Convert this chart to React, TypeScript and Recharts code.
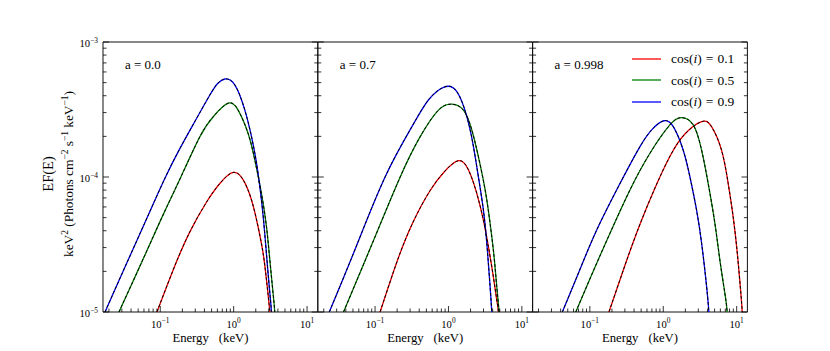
import React from 'react'
import { LineChart, Line, XAxis, YAxis, Legend, ReferenceArea } from 'recharts'

const FONT = '"Liberation Serif", "Times New Roman", serif'
const TOP = 42
const BOTTOM = 312
const PANEL_EDGES = [103, 317.8, 532.6, 747.4]
const X_DOMAIN = [0.0166, 14.0]
const Y_DOMAIN = [1e-5, 1e-3]

const spins = ['0.0', '0.7', '0.998']
const cosLabels = ['0.1', '0.5', '0.9']
const colors = ['#ff0000', '#008000', '#0000ff']

const xTicks = [
  0.02, 0.03, 0.04, 0.05, 0.06, 0.07, 0.08, 0.09, 0.1,
  0.2, 0.3, 0.4, 0.5, 0.6, 0.7, 0.8, 0.9, 1,
  2, 3, 4, 5, 6, 7, 8, 9, 10,
]
const xMajorTicks = [0.1, 1, 10]
const xMajorExps = ['\u22121', '0', '1']

const yTicks = [
  1e-5, 2e-5, 3e-5, 4e-5, 5e-5, 6e-5, 7e-5, 8e-5, 9e-5,
  1e-4, 2e-4, 3e-4, 4e-4, 5e-4, 6e-4, 7e-4, 8e-4, 9e-4, 1e-3,
]
const yMajorTicks = [1e-5, 1e-4, 1e-3]
const yMajorExps = ['\u22125', '\u22124', '\u22123']

// a = 0.0
const eA0Red = [0.0767, 0.0902, 0.15, 0.253, 0.428, 0.648, 0.984, 1.35, 1.75, 2.15, 2.52, 2.8, 3.11, 3.2]
const fA0Red = [7.9e-6, 1.0e-5, 2.05e-5, 3.92e-5, 6.53e-5, 8.95e-5, 1.08e-4, 9.51e-5, 6.76e-5, 4.28e-5, 2.72e-5, 1.73e-5, 1.0e-5, 7.4e-6]
const eA0Green = [0.0228, 0.0274, 0.0447, 0.0723, 0.1175, 0.191, 0.347, 0.537, 0.841, 1.15, 1.57, 1.94, 2.39, 2.8, 3.11, 3.44, 3.63, 3.75]
const fA0Green = [7.9e-6, 1.0e-5, 1.79e-5, 3.19e-5, 5.71e-5, 1.0e-4, 1.99e-4, 2.83e-4, 3.52e-4, 3.13e-4, 2.11e-4, 1.34e-4, 7.57e-5, 4.28e-5, 2.43e-5, 1.38e-5, 1.0e-5, 6.8e-6]
const eA0Blue = [0.0147, 0.0177, 0.0275, 0.0428, 0.0711, 0.118, 0.178, 0.267, 0.474, 0.61, 0.759, 1.04, 1.42, 1.75, 2.05, 2.39, 2.65, 2.89, 3.11, 3.27, 3.36]
const fA0Blue = [7.9e-6, 1.0e-5, 1.72e-5, 2.94e-5, 5.45e-5, 1.0e-4, 1.56e-4, 2.33e-4, 4.05e-4, 4.95e-4, 5.32e-4, 4.8e-4, 3.13e-4, 1.99e-4, 1.26e-4, 6.76e-5, 3.83e-5, 2.17e-5, 1.38e-5, 1.0e-5, 6.8e-6]

// a = 0.7
const eA7Red = [0.099, 0.117, 0.194, 0.33, 0.563, 0.873, 1.37, 1.87, 2.43, 2.99, 3.5, 4.09, 4.55, 4.79, 4.9]
const fA7Red = [7.9e-6, 1.0e-5, 2.27e-5, 4.64e-5, 7.94e-5, 1.09e-4, 1.32e-4, 1.13e-4, 7.57e-5, 4.8e-5, 3.05e-5, 1.82e-5, 1.23e-5, 1.0e-5, 7.4e-6]
const eA7Green = [0.0309, 0.0372, 0.0906, 0.22, 0.412, 0.731, 1.11, 1.6, 2.08, 2.56, 3.16, 3.69, 4.18, 4.55, 4.89, 5.01]
const fA7Green = [7.9e-6, 1.0e-5, 3.17e-5, 1.0e-4, 1.99e-4, 3.13e-4, 3.46e-4, 3.13e-4, 2.23e-4, 1.41e-4, 8.02e-5, 4.54e-5, 2.57e-5, 1.54e-5, 1.0e-5, 6.8e-6]
const eA7Blue = [0.0198, 0.0238, 0.0537, 0.137, 0.318, 0.533, 0.873, 1.3, 1.78, 2.19, 2.56, 2.99, 3.33, 3.61, 3.89, 3.99]
const fA7Blue = [7.9e-6, 1.0e-5, 2.93e-5, 1.0e-4, 2.36e-4, 3.72e-4, 4.64e-4, 4.29e-4, 2.8e-4, 1.68e-4, 1.0e-4, 5.7e-5, 3.23e-5, 1.82e-5, 1.0e-5, 6.8e-6]

// a = 0.998
const eA998Red = [0.155, 0.182, 0.301, 0.482, 0.771, 1.23, 1.97, 3.33, 4.55, 6.22, 7.66, 8.95, 10.1, 11.0, 11.9, 12.1]
const fA998Red = [7.9e-6, 1.0e-5, 2.22e-5, 4.47e-5, 8.29e-5, 1.42e-4, 2.08e-4, 2.57e-4, 2.36e-4, 1.58e-4, 8.97e-5, 5.08e-5, 2.88e-5, 1.73e-5, 1.0e-5, 6.8e-6]
const eA998Green = [0.0535, 0.0643, 0.11, 0.188, 0.352, 0.659, 1.23, 1.78, 2.56, 3.33, 4.09, 5.05, 5.9, 6.9, 7.41, 7.59]
const fA998Green = [7.9e-6, 1.0e-5, 1.98e-5, 3.83e-5, 8.02e-5, 1.5e-4, 2.43e-4, 2.75e-4, 2.43e-4, 1.58e-4, 8.97e-5, 4.54e-5, 2.43e-5, 1.38e-5, 1.0e-5, 6.8e-6]
const eA998Blue = [0.0351, 0.0422, 0.0723, 0.124, 0.244, 0.482, 0.731, 1.02, 1.37, 1.87, 2.31, 2.84, 3.33, 3.81, 4.18, 4.29]
const fA998Blue = [7.9e-6, 1.0e-5, 2.03e-5, 4.05e-5, 8.47e-5, 1.68e-4, 2.3e-4, 2.61e-4, 2.36e-4, 1.58e-4, 1.0e-4, 5.7e-5, 3.23e-5, 1.73e-5, 1.0e-5, 6.8e-6]

const toPoints = (e: number[], f: number[]) => e.map((v, i) => ({ e: v, f: f[i] }))

const panels = [
  [toPoints(eA0Red, fA0Red), toPoints(eA0Green, fA0Green), toPoints(eA0Blue, fA0Blue)],
  [toPoints(eA7Red, fA7Red), toPoints(eA7Green, fA7Green), toPoints(eA7Blue, fA7Blue)],
  [toPoints(eA998Red, fA998Red), toPoints(eA998Green, fA998Green), toPoints(eA998Blue, fA998Blue)],
]

const XTick = (props: any) => {
  const { x, payload } = props
  const idx = xMajorTicks.indexOf(payload.value)
  const len = idx >= 0 ? 6 : 3.5
  return (
    <g>
      <line x1={x} x2={x} y1={BOTTOM} y2={BOTTOM - len} stroke="#000" strokeWidth={0.8} />
      {idx >= 0 && (
        <text x={x} y={327.5} textAnchor="middle" fontSize={10.6} fill="#000" style={{ fontFamily: FONT }}>
          10<tspan dy={-4.5} fontSize={7.4}>{xMajorExps[idx]}</tspan>
        </text>
      )}
    </g>
  )
}

const makeYTick = (left: number, right: number, showLabel: boolean) => (props: any) => {
  const { y, payload } = props
  const idx = yMajorTicks.indexOf(payload.value)
  const len = idx >= 0 ? 6 : 3.5
  return (
    <g>
      <line x1={left} x2={left + len} y1={y} y2={y} stroke="#000" strokeWidth={0.8} />
      <line x1={right - len} x2={right} y1={y} y2={y} stroke="#000" strokeWidth={0.8} />
      {showLabel && idx >= 0 && (
        <text x={left - 5} y={y + 5} textAnchor="end" fontSize={10.6} fill="#000" style={{ fontFamily: FONT }}>
          10<tspan dy={-4.5} fontSize={7.4}>{yMajorExps[idx]}</tspan>
        </text>
      )}
    </g>
  )
}

const renderLegend = (props: any) => {
  const items = (props.payload || []).filter((it: any) => it.type !== 'none' && it.color !== '#000')
  return (
    <div style={{ fontFamily: FONT, fontSize: 13.5, color: '#000', lineHeight: 1 }}>
      {items.map((item: any, i: number) => (
        <div key={i} style={{ height: 21.3, display: 'flex', alignItems: 'center' }}>
          <svg width={30} height={4} style={{ marginRight: 9 }}>
            <line x1={0} x2={29} y1={2} y2={2} stroke={item.color} strokeWidth={1.3} />
          </svg>
          <span style={{ whiteSpace: 'pre' }}>
            cos(<i>i</i>)<span style={{ margin: '0 4px' }}>=</span>{cosLabels[i]}
          </span>
        </div>
      ))}
    </div>
  )
}

const Panel = ({ index }: { index: number }) => {
  const left = PANEL_EDGES[index]
  const right = PANEL_EDGES[index + 1]
  return (
    <div style={{ position: 'absolute', left: 0, top: 0 }}>
      <LineChart
        width={830}
        height={351}
        margin={{ top: TOP, right: 830 - right, bottom: 351 - BOTTOM - 30, left: left - 40 }}
      >
        <XAxis
          dataKey="e"
          type="number"
          scale="log"
          domain={X_DOMAIN}
          allowDataOverflow
          ticks={xTicks}
          interval={0}
          tick={XTick}
          tickLine={false}
          axisLine={false}
          height={30}
        />
        <YAxis
          type="number"
          scale="log"
          domain={Y_DOMAIN}
          allowDataOverflow
          ticks={yTicks}
          interval={0}
          tick={makeYTick(left, right, index === 0)}
          tickLine={false}
          axisLine={false}
          width={40}
        />
        <ReferenceArea
          x1={X_DOMAIN[0]}
          x2={X_DOMAIN[1]}
          y1={Y_DOMAIN[0]}
          y2={Y_DOMAIN[1]}
          fill="none"
          stroke="#111"
          strokeWidth={1}
          fillOpacity={0}
          ifOverflow="visible"
        />
        {panels[index].map((pts, c) => (
          <Line
            key={`c${c}`}
            data={pts}
            dataKey="f"
            name={`cos(i) = ${cosLabels[c]}`}
            type="natural"
            stroke={colors[c]}
            strokeWidth={1.3}
            dot={false}
            activeDot={false}
            isAnimationActive={false}
          />
        ))}
        {panels[index].map((pts, c) => (
          <Line
            key={`d${c}`}
            data={pts}
            dataKey="f"
            type="natural"
            stroke="#000"
            strokeWidth={1}
            strokeDasharray="3 2"
            dot={false}
            activeDot={false}
            legendType="none"
            isAnimationActive={false}
          />
        ))}
        {index === 2 && (
          <Legend
            layout="vertical"
            align="center"
            verticalAlign="middle"
            content={renderLegend}
            wrapperStyle={{ position: 'absolute', left: 632, top: 48.4, width: 115, height: 64 }}
          />
        )}
      </LineChart>
    </div>
  )
}

const App = () => {
  const centers = [0, 1, 2].map((i) => (PANEL_EDGES[i] + PANEL_EDGES[i + 1]) / 2)
  return (
    <div style={{ position: 'absolute', left: 0, top: 0, width: 830, height: 351, background: '#fff' }}>
      <Panel index={0} />
      <Panel index={1} />
      <Panel index={2} />
      <svg
        width={830}
        height={351}
        style={{ position: 'absolute', left: 0, top: 0, pointerEvents: 'none', fontFamily: FONT }}
      >
        {spins.map((s, i) => (
          <text key={s} x={PANEL_EDGES[i] + 22} y={69.3} fontSize={13} fill="#000">
            a = {s}
          </text>
        ))}
        {centers.map((cx, i) => (
          <text key={i} x={cx} y={342} textAnchor="middle" fontSize={12.7} fill="#000">
            Energy<tspan dx={10}>(keV)</tspan>
          </text>
        ))}
        <text transform="translate(52.6,174) rotate(-90)" textAnchor="middle" fontSize={14.5} fill="#000">
          EF(E)
        </text>
        <text
          transform="translate(72.6,174) rotate(-90)"
          textAnchor="middle"
          fontSize={13.5}
          fill="#000"
          textLength={166}
          lengthAdjust="spacing"
        >
          keV<tspan dy={-5} fontSize={9.5}>2</tspan>
          <tspan dy={5}> (Photons cm</tspan>
          <tspan dy={-5} fontSize={9.5}>{'\u22122'}</tspan>
          <tspan dy={5}> s</tspan>
          <tspan dy={-5} fontSize={9.5}>{'\u22121'}</tspan>
          <tspan dy={5}> keV</tspan>
          <tspan dy={-5} fontSize={9.5}>{'\u22121'}</tspan>
          <tspan dy={5}>)</tspan>
        </text>
      </svg>
    </div>
  )
}

export default App
